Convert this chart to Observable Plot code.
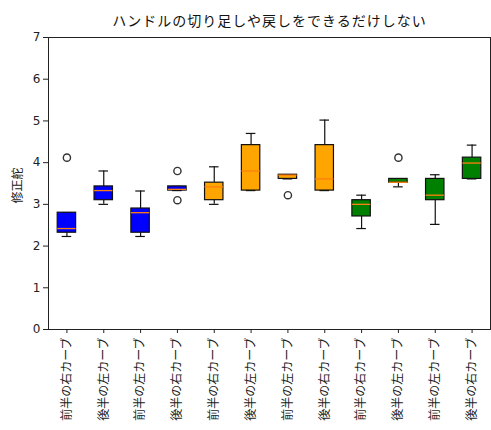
<!DOCTYPE html>
<html>
<head>
<meta charset="utf-8">
<script src="https://cdn.jsdelivr.net/npm/d3@7"></script>
<script src="https://cdn.jsdelivr.net/npm/@observablehq/plot@0.6"></script>
<style>
  body { margin: 0; background: #fff; }
  #title { height: 30px; box-sizing: border-box; padding-top: 12px; padding-left: 48px; width: 491px;
           text-align: center; font-family: 'Noto Sans CJK JP', sans-serif; font-size: 14px; line-height: 16px;
           letter-spacing: 1px; color: #111; }
</style>
</head>
<body>
<div id="title">ハンドルの切り足しや戻しをできるだけしない</div>
<div id="chart"></div>
<script>
const labels = ["前半の右カーブ","後半の左カーブ","前半の左カーブ","後半の右カーブ",
                "前半の右カーブ","後半の左カーブ","前半の左カーブ","後半の右カーブ",
                "前半の右カーブ","後半の左カーブ","前半の左カーブ","後半の右カーブ"];
const groups = ["A","A","A","A","B","B","B","B","C","C","C","C"];
const groupNames = ["A","B","C"];
const groupColors = ["#0000ff","#ffa500","#008000"];
const mins    = [2.23, 3.00, 2.23, 3.33, 3.00, 3.33, 3.61, 3.33, 2.42, 3.42, 2.52, 3.61];
const q1s     = [2.32, 3.10, 2.32, 3.33, 3.10, 3.33, 3.61, 3.33, 2.71, 3.52, 3.10, 3.61];
const medians = [2.42, 3.33, 2.80, 3.36, 3.42, 3.80, 3.70, 3.61, 3.00, 3.53, 3.22, 3.99];
const q3s     = [2.80, 3.43, 2.90, 3.43, 3.52, 4.42, 3.71, 4.42, 3.10, 3.61, 3.61, 4.12];
const maxs    = [2.80, 3.80, 3.32, 3.43, 3.90, 4.70, 3.71, 5.02, 3.22, 3.61, 3.71, 4.42];
const outlierBox   = [1, 4, 4, 7, 10];
const outlierValue = [4.12, 3.80, 3.10, 3.22, 4.12];
const yTicks = [0, 1, 2, 3, 4, 5, 6, 7];
const yLabel = "修正舵";

const rows = labels.map((label, i) => ({
  pos: i + 1, label, group: groups[i],
  min: mins[i], q1: q1s[i], med: medians[i], q3: q3s[i], max: maxs[i]
}));
const outs = outlierBox.map((b, i) => ({pos: b, value: outlierValue[i]}));
const positions = rows.map(d => d.pos);
const hw = 0.25, cw = 0.13;

const chart = Plot.plot({
  width: 491,
  height: 400,
  marginTop: 7,
  marginBottom: 101,
  marginLeft: 48,
  marginRight: 1,
  style: {fontFamily: "'DejaVu Sans', 'Noto Sans CJK JP', sans-serif", fontSize: "11px", color: "#222", background: "#fff"},
  x: {type: "linear", domain: [0.5, 12.5]},
  y: {domain: [0, 7]},
  color: {domain: groupNames, range: groupColors},
  marks: [
    Plot.ruleX(rows, {x: "pos", y1: "min", y2: "q1", stroke: "#111", strokeWidth: 1.2}),
    Plot.ruleX(rows, {x: "pos", y1: "q3", y2: "max", stroke: "#111", strokeWidth: 1.2}),
    Plot.ruleY(rows, {y: "min", x1: d => d.pos - cw, x2: d => d.pos + cw, stroke: "#111", strokeWidth: 1.2}),
    Plot.ruleY(rows, {y: "max", x1: d => d.pos - cw, x2: d => d.pos + cw, stroke: "#111", strokeWidth: 1.2}),
    Plot.rect(rows, {x1: d => d.pos - hw, x2: d => d.pos + hw, y1: "q1", y2: "q3", fill: "group", stroke: "#111", strokeWidth: 1.2}),
    Plot.ruleY(rows, {y: "med", x1: d => d.pos - hw, x2: d => d.pos + hw, stroke: "#ff7f0e", strokeWidth: 1.3}),
    Plot.dot(outs, {x: "pos", y: "value", r: 3.6, stroke: "#333", strokeWidth: 1.4, fill: "none"}),
    Plot.frame({stroke: "#222"}),
    Plot.axisY({ticks: yTicks, tickFormat: d => String(d), tickSize: 5, tickPadding: 3, label: null, fontSize: 12}),
    Plot.axisX({ticks: positions, tickFormat: p => labels[p - 1], tickRotate: -90, tickSize: 4, tickPadding: 4,
                label: null, fontSize: 12, fontFamily: "'Noto Sans CJK JP', sans-serif"}),
    Plot.text([yLabel], {frameAnchor: "left", dx: -30, dy: 20, rotate: -90, fontSize: 12,
                         fontFamily: "'Noto Sans CJK JP', sans-serif", fill: "#222"})
  ]
});
document.getElementById("chart").appendChild(chart);
</script>
</body>
</html>
